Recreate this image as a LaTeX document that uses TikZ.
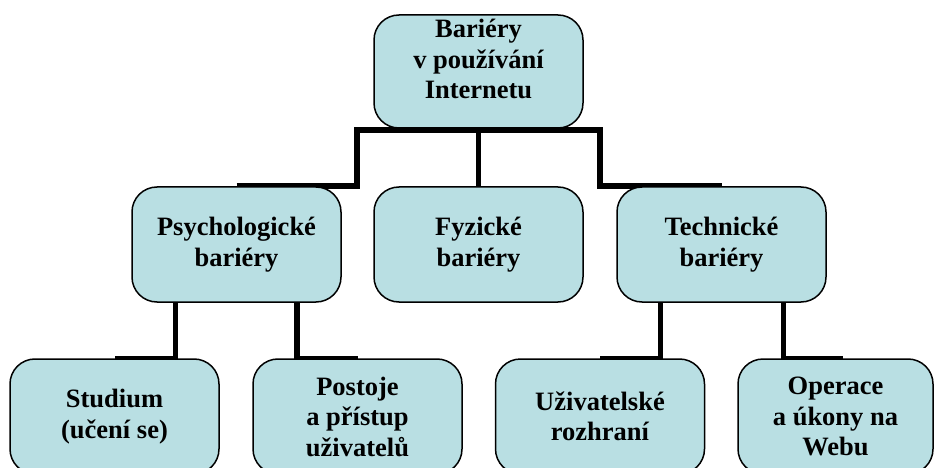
\documentclass[tikz,border=0pt]{standalone}
\usepackage{fontspec}
\setmainfont{Liberation Serif}
\usetikzlibrary{backgrounds}
\definecolor{boxfill}{RGB}{185,223,227}
\tikzset{
  box/.style={draw=black, line width=1.5pt, fill=boxfill, rounded corners=25pt,
    minimum width=209pt, inner sep=0pt, align=center,
    font=\fontsize{26.5}{30.5}\selectfont\bfseries},
  boxtext/.style={inner sep=0pt, align=center,
    font=\fontsize{26.5}{30.5}\selectfont\bfseries},
  conn/.style={draw=black, line width=5.5pt, line join=miter, line cap=butt},
}
\begin{document}
\begin{tikzpicture}[x=1pt,y=-1pt]
\useasboundingbox (0,0) rectangle (935,468);
\clip (0,0) rectangle (935,468);
% junction coordinates
\coordinate (jL) at (357,130);
\coordinate (jR) at (600,130);
% boxes
\path
  node[box, minimum height=113pt] (top) at (478.5,71.5) {}
  node[box, minimum height=115pt] (psych) at (236.5,244.5) {Psychologické\\bariéry}
  node[box, minimum height=115pt] (fyz) at (478.5,244.5) {Fyzické\\bariéry}
  node[box, minimum height=115pt] (tech) at (721.5,244.5) {Technické\\bariéry}
  node[box, minimum height=115pt] (stud) at (114.5,416.5) {Studium\\(učení se)}
  node[box, minimum height=115pt] (post) at (357.5,416.5) {Postoje\\a přístup\\uživatelů}
  node[box, minimum height=115pt] (uziv) at (600,416.5) {Uživatelské\\rozhraní}
  node[box, minimum height=115pt, minimum width=195pt] (oper) at (835.5,416.5) {Operace\\a úkony na\\Webu};
\node[boxtext] (topT) at ([yshift=12.5pt]top.center) {Bariéry\\v používání\\Internetu};
% connectors behind the boxes
\begin{scope}[on background layer]
  \draw[conn] (psych.north) -| (jL) -- (jR) |- (tech.north);
  \draw[conn] (top.south) -- (fyz.north);
  \draw[conn] ([xshift=-61pt]psych.south) |- (stud.north);
  \draw[conn] ([xshift=60.5pt]psych.south) |- (post.north);
  \draw[conn] ([xshift=-61pt]tech.south) |- (uziv.north);
  \draw[conn] ([xshift=62pt]tech.south) |- ([xshift=7.5pt]oper.north);
\end{scope}
\end{tikzpicture}
\end{document}
